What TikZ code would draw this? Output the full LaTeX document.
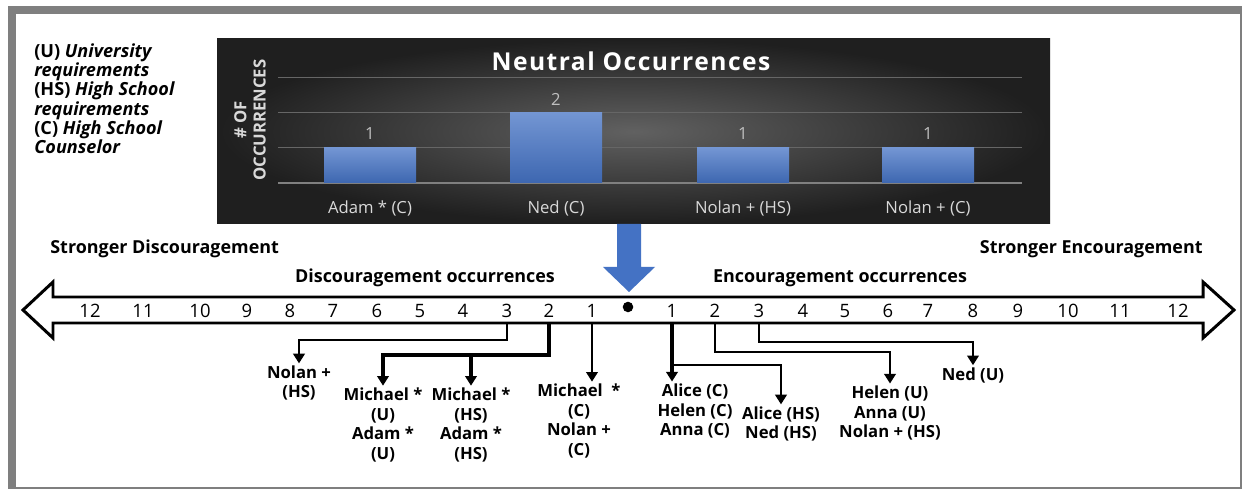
\documentclass[tikz,border=0pt]{standalone}
\usepackage{fontspec}
\setmainfont{Open Sans}
\usetikzlibrary{arrows.meta}
\definecolor{barblue}{HTML}{4472C4}
\definecolor{framegray}{HTML}{7F7F7F}
\begin{document}
\begin{tikzpicture}[x=0.02cm,y=-0.02cm,line join=miter,>={Triangle[width=6.5pt,length=5.5pt]}]
	\tikzset{tick/.style={font=\fontsize{10.5}{12}\selectfont,inner sep=0pt},
		who/.style={font=\fontsize{9.5}{11.2}\selectfont\bfseries,align=center,inner sep=1pt},
		head/.style={font=\fontsize{10.2}{12}\selectfont\bfseries,inner sep=0pt},
		link/.style={->,line width=1.6pt},
		biglink/.style={->,line width=2.5pt},
		val/.style={font=\fontsize{9.5}{11}\selectfont,text=black!25},
		cat/.style={font=\fontsize{9.5}{11}\selectfont,text=black!15}}
	\useasboundingbox (0,0) rectangle (1242,489);
	\fill[white] (0,0) rectangle (1242,489);
	\draw[framegray,line width=4.5pt] (12,10) rectangle (1244,491);
	\node[anchor=north west,align=left,inner sep=0pt,font=\fontsize{10.3}{11}\selectfont\bfseries] (legend) at (34,43)
		{(U) \textit{University}\\ \textit{requirements}\\ (HS) \textit{High School}\\ \textit{requirements}\\ (C) \textit{High School}\\ \textit{Counselor}};
	\shade[inner color=black!62,outer color=black!88] (217,39) rectangle (1050,224);
	\foreach \y in {77,112,147}
	\draw[black!60,line width=0.4pt] (278,\y)--(1022,\y);
	\draw[black!50,line width=0.6pt] (278,183)--(1022,183);
	\node[font=\fontsize{14}{15}\selectfont\bfseries\addfontfeature{LetterSpace=6},text=white] (title) at (631,61) {Neutral Occurrences};
	\node[rotate=90,align=center,font=\fontsize{9.5}{11}\selectfont\bfseries,text=black!15] (ylab) at (250,120) {\# OF\\OCCURRENCES};
	\foreach \x/\v/\lab [count=\i] in {370/1/{Adam * (C)},556/2/{Ned (C)},743/1/{Nolan + (HS)},928/1/{Nolan + (C)}}{
		\shade[top color=barblue!75!white,bottom color=barblue!90!black] (\x-46,183) rectangle (\x+46,183-35*\v);
		\node[val] (v\i) at (\x,169-35*\v) {\v};
		\node[cat] (c\i) at (\x,208) {\lab};
	}
	\fill[barblue] (617,224)--(641,224)--(641,267)--(655,267)--(629,292)--(603,267)--(617,267)--cycle;
	\node[head,anchor=west] (strongdis) at (50,249) {Stronger Discouragement};
	\node[head,anchor=east] (strongenc) at (1203,249) {Stronger Encouragement};
	\node[head] (discocc) at (425,278) {Discouragement occurrences};
	\node[head] (encocc) at (840,278) {Encouragement occurrences};
	\draw[line width=1.7pt,fill=white] (23,310)--(53,282)--(53,297)--(1203,297)--(1203,282)--(1234,310)--(1203,338)--(1203,323)--(53,323)--(53,338)--cycle;
	\coordinate (sb) at (628,323);
	\foreach \n/\x in {12/90,11/143,10/200,9/247,8/290,7/333,6/377,5/420,4/463,3/507,2/549,1/592}
	\node[tick] (d\n) at (\x,311) {\n};
	\foreach \n/\x in {1/672,2/715,3/759,4/803,5/845,6/888,7/928,8/973,9/1018,10/1068,11/1120,12/1178}
	\node[tick] (e\n) at (\x,311) {\n};
	\node[circle,fill,inner sep=0pt,minimum size=6pt] (zero) at (628,307) {};
	\node[who] (nolanhs) at (299,383) {Nolan +\\(HS)};
	\node[who] (mu) at (383,425) {Michael *\\(U)\\Adam *\\(U)};
	\node[who] (mh) at (471,425) {Michael *\\(HS)\\Adam *\\(HS)};
	\node[who] (mc) at (579,421) {Michael\ \ *\\(C)\\Nolan +\\(C)};
	\node[who] (ac) at (695,411) {Alice (C)\\Helen (C)\\Anna (C)};
	\node[who] (ah) at (781,424) {Alice (HS)\\Ned (HS)};
	\node[who] (hu) at (890,413) {Helen (U)\\Anna (U)\\Nolan + (HS)};
	\node[who] (nu) at (973,375) {Ned (U)};
	\draw[link] (d3 |- sb)--++(0,17)-|(nolanhs.north);
	\draw[biglink] (d2 |- sb)--++(0,32) coordinate (k2)-|(mu.north);
	\draw[biglink] (k2 -| mh.north)--(mh.north);
	\draw[link] (d1 |- sb)--(d1 |- mc.north);
	\draw[biglink] (e1 |- sb)--(e1 |- ac.north);
	\draw[link] (e1 |- sb) ++(0,42)-|(ah.north);
	\draw[link] (e2 |- sb)--++(0,29)-|(hu.north);
	\draw[link] (e3 |- sb)--++(0,19)-|(nu.north);
\end{tikzpicture}
\end{document}
